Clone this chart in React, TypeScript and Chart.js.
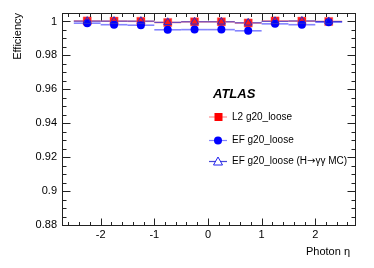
import React, { useEffect, useRef } from "react";
import { Chart, registerables } from "chart.js";

Chart.register(...registerables);

const etaCenters = [-2.25, -1.75, -1.25, -0.75, -0.25, 0.25, 0.75, 1.25, 1.75, 2.25];
const etaHalfWidth = [0.25, 0.25, 0.25, 0.25, 0.25, 0.25, 0.25, 0.25, 0.25, 0.25];
const l2Eff = [1.0003, 1.0002, 1.0001, 0.9994, 0.9998, 0.9998, 0.9991, 1.0003, 1.0002, 1.0];
const efEff = [0.999, 0.9981, 0.9978, 0.9951, 0.9952, 0.9952, 0.9945, 0.9986, 0.9981, 0.9996];
const mcEff = [1.0002, 1.0002, 1.0002, 0.9995, 0.9998, 0.9998, 0.9992, 1.0001, 1.0003, 1.0];
const xTickValues = [-2, -1, 0, 1, 2];
const yTickValues = [0.88, 0.9, 0.92, 0.94, 0.96, 0.98, 1.0];
const seriesNames = ["L2 g20_loose", "EF g20_loose", "EF g20_loose (H\u2192\u03b3\u03b3 MC)"];

const FONT = "'Liberation Sans', Arial, Helvetica, sans-serif";

const toPts = (ys: number[]) => etaCenters.map((x, i) => ({ x, y: ys[i] }));

export default function App() {
  const ref = useRef<HTMLCanvasElement | null>(null);
  useEffect(() => {
    if (!ref.current) return;
    const errColors = ["rgba(255,110,110,0.8)", "rgba(110,110,255,0.85)", "rgba(50,50,210,0.9)"];
    const errSeries = [l2Eff, efEff, mcEff];

    const errPlugin = {
      id: "errbars",
      beforeDatasetsDraw(chart: any) {
        const { ctx, scales } = chart;
        const xs = scales.x, ys = scales.y;
        ctx.save();
        errSeries.forEach((vals, s) => {
          ctx.strokeStyle = errColors[s];
          ctx.lineWidth = s === 2 ? 1 : 1.6;
          vals.forEach((v, i) => {
            const y = ys.getPixelForValue(v);
            ctx.beginPath();
            ctx.moveTo(xs.getPixelForValue(etaCenters[i] - etaHalfWidth[i]), y);
            ctx.lineTo(xs.getPixelForValue(etaCenters[i] + etaHalfWidth[i]), y);
            ctx.stroke();
          });
        });
        ctx.restore();
      },
    };

    const drawMixed = (ctx: any, text: string, x: number, y: number) => {
      // draw text with the arrow in DejaVu Sans for a wider glyph
      let cx = x;
      const parts = text.split(/(\u2192)/);
      parts.forEach((p) => {
        if (!p) return;
        ctx.font = p === "\u2192" ? "10px 'DejaVu Sans', sans-serif" : `10px ${FONT}`;
        ctx.fillText(p, cx, y);
        cx += ctx.measureText(p).width;
      });
    };

    const framePlugin = {
      id: "frame",
      afterDraw(chart: any) {
        const { ctx, chartArea: a, scales } = chart;
        const xs = scales.x, ys = scales.y;
        ctx.save();
        ctx.strokeStyle = "#222";
        ctx.lineWidth = 1;
        const L = Math.round(a.left) + 0.5, R = Math.round(a.right) + 0.5;
        const T = Math.round(a.top) + 0.5, B = Math.round(a.bottom) + 0.5;
        ctx.strokeRect(L, T, R - L, B - T);
        ctx.beginPath();
        for (let k = -15; k <= 15; k++) {
          const v = k * 0.2;
          if (v < xs.min || v > xs.max) continue;
          const px = Math.round(xs.getPixelForValue(v)) + 0.5;
          const major = k % 5 === 0;
          const len = major ? 7 : 3.5;
          ctx.moveTo(px, B); ctx.lineTo(px, B - len);
          ctx.moveTo(px, T); ctx.lineTo(px, T + len);
        }
        for (let k = 0; k <= 25; k++) {
          const v = 0.88 + k * 0.005;
          if (v > ys.max + 1e-9) continue;
          const py = Math.round(ys.getPixelForValue(v)) + 0.5;
          const major = k % 4 === 0;
          const len = major ? 8 : 4;
          ctx.moveTo(L, py); ctx.lineTo(L + len, py);
          ctx.moveTo(R, py); ctx.lineTo(R - len, py);
        }
        ctx.stroke();

        ctx.fillStyle = "#000";
        ctx.font = `11px ${FONT}`;
        ctx.textAlign = "right";
        ctx.textBaseline = "middle";
        ctx.fillText("Photon \u03b7", 350, 252);
        ctx.save();
        ctx.translate(18, 13);
        ctx.rotate(-Math.PI / 2);
        ctx.textAlign = "right";
        ctx.fillText("Efficiency", 0, 0);
        ctx.restore();

        ctx.font = `italic bold 13px ${FONT}`;
        ctx.textAlign = "left";
        ctx.fillText("ATLAS", 213, 94);

        const rows = [117, 140.5, 161.5];
        rows.forEach((ry, i) => {
          ctx.strokeStyle = errColors[i];
          ctx.lineWidth = 1.2;
          ctx.beginPath();
          ctx.moveTo(209, ry); ctx.lineTo(227, ry);
          ctx.stroke();
          if (i === 0) {
            ctx.fillStyle = "#ff0000";
            ctx.fillRect(214.5, ry - 4, 8, 8);
          } else if (i === 1) {
            ctx.fillStyle = "#0000ff";
            ctx.beginPath(); ctx.arc(218, ry, 4, 0, Math.PI * 2); ctx.fill();
          } else {
            ctx.strokeStyle = "#2020ee";
            ctx.lineWidth = 1;
            ctx.fillStyle = "#fff";
            ctx.beginPath();
            ctx.moveTo(218, ry - 4.5); ctx.lineTo(222.5, ry + 3.5); ctx.lineTo(213.5, ry + 3.5); ctx.closePath();
            ctx.fill(); ctx.stroke();
          }
          ctx.fillStyle = "#000";
          drawMixed(ctx, seriesNames[i], 232, ry);
        });
        ctx.restore();
      },
    };

    const chart = new Chart(ref.current, {
      type: "scatter",
      data: {
        datasets: [
          {
            label: seriesNames[2],
            data: toPts(mcEff),
            pointStyle: "triangle",
            pointRadius: 4.5,
            backgroundColor: "rgba(0,0,0,0)",
            borderColor: "#2a2ad0",
            borderWidth: 1,
            order: 1,
          },
          {
            label: seriesNames[1],
            data: toPts(efEff),
            pointStyle: "circle",
            pointRadius: 4,
            backgroundColor: "#0000ff",
            borderColor: "#0000ff",
            borderWidth: 0,
            order: 2,
          },
          {
            label: seriesNames[0],
            data: toPts(l2Eff),
            pointStyle: "rect",
            pointRadius: 5.8,
            backgroundColor: "#ff1a1a",
            borderColor: "rgba(255,100,100,0.8)",
            borderWidth: 0.5,
            order: 3,
          },
        ],
      },
      options: {
        responsive: false,
        animation: false,
        events: [],
        layout: { padding: { left: 0, top: 13, right: 19, bottom: 0 } },
        plugins: { legend: { display: false }, tooltip: { enabled: false } },
        scales: {
          x: {
            type: "linear",
            min: -2.72,
            max: 2.74,
            grid: { display: false, drawTicks: false },
            border: { display: false },
            ticks: { color: "#000", font: { family: FONT, size: 11 }, padding: 3 },
            afterBuildTicks: (s: any) => { s.ticks = xTickValues.map((v) => ({ value: v })); },
            afterFit: (s: any) => { s.height = 43; },
          },
          y: {
            type: "linear",
            min: 0.88,
            max: 1.005,
            grid: { display: false, drawTicks: false },
            border: { display: false },
            ticks: {
              color: "#000",
              font: { family: FONT, size: 11 },
              padding: 5,
              callback: (v: any) => String(Number(Number(v).toFixed(3))),
            },
            afterBuildTicks: (s: any) => { s.ticks = yTickValues.map((v) => ({ value: v })); },
            afterFit: (s: any) => { s.width = 62; },
          },
        },
      },
      plugins: [errPlugin, framePlugin],
    });
    return () => chart.destroy();
  }, []);

  return (
    <div style={{ position: "absolute", left: 0, top: 0, width: 374, height: 268, background: "#fff" }}>
      <canvas ref={ref} width={374} height={268} />
    </div>
  );
}
